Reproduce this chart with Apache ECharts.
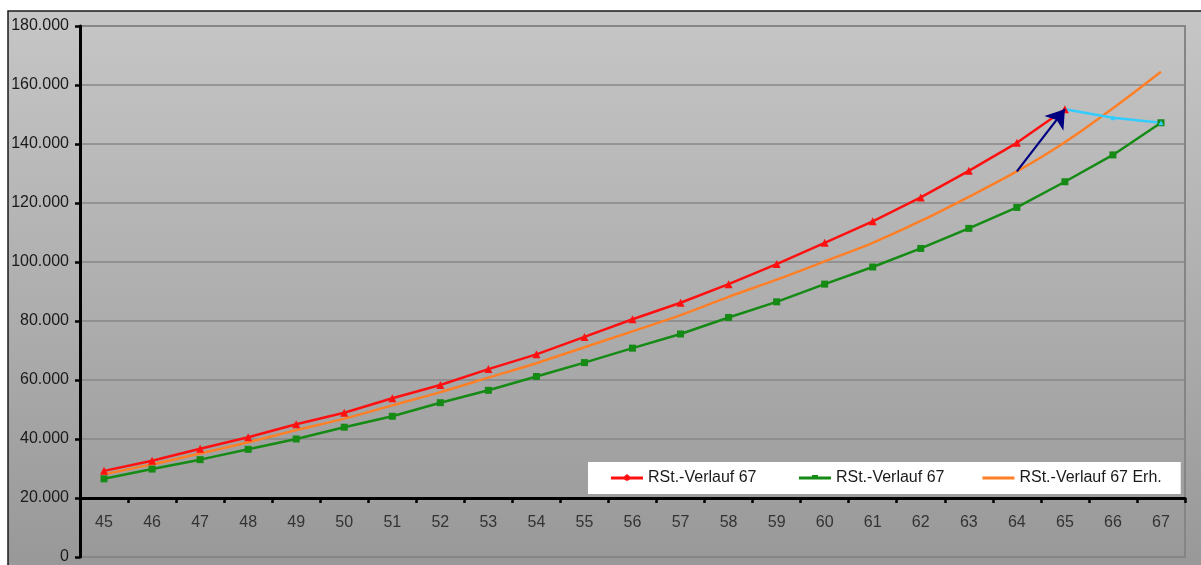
<!DOCTYPE html>
<html>
<head>
<meta charset="utf-8">
<script src="https://cdn.jsdelivr.net/npm/echarts@6/dist/echarts.min.js"></script>
<style>
html,body{margin:0;padding:0;background:#fff;}
#chart{width:1201px;height:565px;}
</style>
</head>
<body>
<div id="chart"></div>
<script>
const categories = ['45','46','47','48','49','50','51','52','53','54','55','56','57','58','59','60','61','62','63','64','65','66','67'];
const redSeries = [29200, 32600, 36700, 40600, 45000, 48900, 53800, 58300, 63700, 68700, 74600, 80600, 86200, 92500, 99300, 106500, 113800, 121900, 130900, 140400, 151800, null, null];
const greenSeries = [26500, 29800, 33000, 36500, 40000, 44000, 47700, 52300, 56500, 61200, 65900, 70800, 75600, 81200, 86500, 92500, 98300, 104600, 111400, 118500, 127200, 136300, 147200];
const orangeSeries = [28100, 31400, 35100, 38900, 43000, 46900, 51400, 55900, 60800, 65700, 71100, 76500, 82000, 88200, 94000, 100200, 106500, 113900, 122100, 130700, 140600, 152100, 164500];
const cyanSeries = [null, null, null, null, null, null, null, null, null, null, null, null, null, null, null, null, null, null, null, null, 151800, 148900, 147200];
const arrowFrom = ['64', 130700];
const arrowTo = ['65', 151800];
const yMin = 0, yMax = 180000, yInterval = 20000, xAxisCross = 20000;

const fmt = v => String(v).replace(/\B(?=(\d{3})+(?!\d))/g, '.');

const gridTop = 26, gridBottom = 8, chartH = 565;
const gridH = chartH - gridTop - gridBottom;
const xOffset = -gridH * (xAxisCross - yMin) / (yMax - yMin);

const lineIcon = 'path://M0,0h0.01v14h-0.01z M0,5.5h32v3h-32z';
const triIcon = 'path://M0,0h0.01v14h-0.01z M0,5.5h13l3,-2.5l3,2.5h13v3h-13l-3,1.5l-3,-1.5h-13z';
const rectIcon = 'path://M0,0h0.01v14h-0.01z M0,5.5h13v-1.5h6v1.5h13v3h-32z';

const chart = echarts.init(document.getElementById('chart'), null, {renderer: 'canvas'});
const font = '"Liberation Sans", Arial, sans-serif';
chart.setOption({
  animation: false,
  backgroundColor: '#ffffff',
  textStyle: {fontFamily: font},
  graphic: [{
    type: 'rect', z: -10, silent: true,
    shape: {x: 8, y: 11, width: 1200, height: 560},
    style: {
      fill: new echarts.graphic.LinearGradient(0, 0, 0, 1, [
        {offset: 0, color: '#c6c6c6'},
        {offset: 1, color: '#989898'}
      ]),
      stroke: '#1a1a1a', lineWidth: 1.5
    }
  }],
  grid: {
    left: 80, right: 16, top: gridTop, bottom: gridBottom,
    show: true, borderColor: '#858585', borderWidth: 2, backgroundColor: 'transparent'
  },
  legend: {
    left: 588, top: 462,
    backgroundColor: '#ffffff',
    padding: [8, 19, 8, 23],
    itemGap: 38,
    itemWidth: 32, itemHeight: 14,
    textStyle: {fontSize: 16, color: '#1a1a1a', fontFamily: font},
    data: [
      {name: 'RSt.-Verlauf 67 ', icon: triIcon},
      {name: 'RSt.-Verlauf 67', icon: rectIcon},
      {name: 'RSt.-Verlauf 67 Erh.', icon: lineIcon}
    ]
  },
  xAxis: {
    type: 'category',
    data: categories,
    boundaryGap: true,
    offset: xOffset,
    axisLine: {lineStyle: {color: '#000', width: 3}},
    axisTick: {show: true, length: 5, lineStyle: {color: '#000', width: 2.5}},
    axisLabel: {color: '#333', fontSize: 16, margin: 17, fontFamily: font},
    splitLine: {show: false}
  },
  yAxis: {
    type: 'value', min: yMin, max: yMax, interval: yInterval,
    axisLine: {show: true, lineStyle: {color: '#000', width: 3}},
    axisTick: {show: true, length: 5, lineStyle: {color: '#000', width: 2.5}},
    axisLabel: {color: '#1a1a1a', fontSize: 16, margin: 11, formatter: fmt, fontFamily: font},
    splitLine: {show: true, lineStyle: {color: '#878787', width: 1.5}}
  },
  series: [
    {
      name: 'RSt.-Verlauf 67 ', type: 'line', data: redSeries,
      symbol: 'triangle', symbolSize: 8,
      lineStyle: {color: '#ff1010', width: 2.5},
      itemStyle: {color: '#ff1010'},
      z: 4
    },
    {
      name: 'RSt.-Verlauf 67', type: 'line', data: greenSeries,
      symbol: 'rect', symbolSize: 7,
      lineStyle: {color: '#158a15', width: 2.5},
      itemStyle: {color: '#158a15'},
      z: 3
    },
    {
      name: 'RSt.-Verlauf 67 Erh.', type: 'line', data: orangeSeries,
      symbol: 'none', smooth: 0.3,
      lineStyle: {color: '#ff7f27', width: 2.5},
      itemStyle: {color: '#ff7f27'},
      z: 2
    },
    {
      name: 'cyan', type: 'line', data: cyanSeries,
      symbol: 'triangle', symbolSize: 5,
      lineStyle: {color: '#33ccff', width: 2.5},
      itemStyle: {color: '#33ccff'},
      z: 3
    },
    {
      name: 'arrow', type: 'line', data: [],
      z: 6,
      markLine: {
        silent: true,
        symbol: ['none', 'arrow'],
        symbolSize: 18,
        label: {show: false},
        lineStyle: {color: '#000080', width: 2.2, type: 'solid'},
        emphasis: {disabled: true},
        data: [[{coord: arrowFrom, symbol: 'none'}, {coord: arrowTo, symbol: 'arrow', symbolSize: 18}]]
      }
    }
  ]
});
</script>
</body>
</html>
